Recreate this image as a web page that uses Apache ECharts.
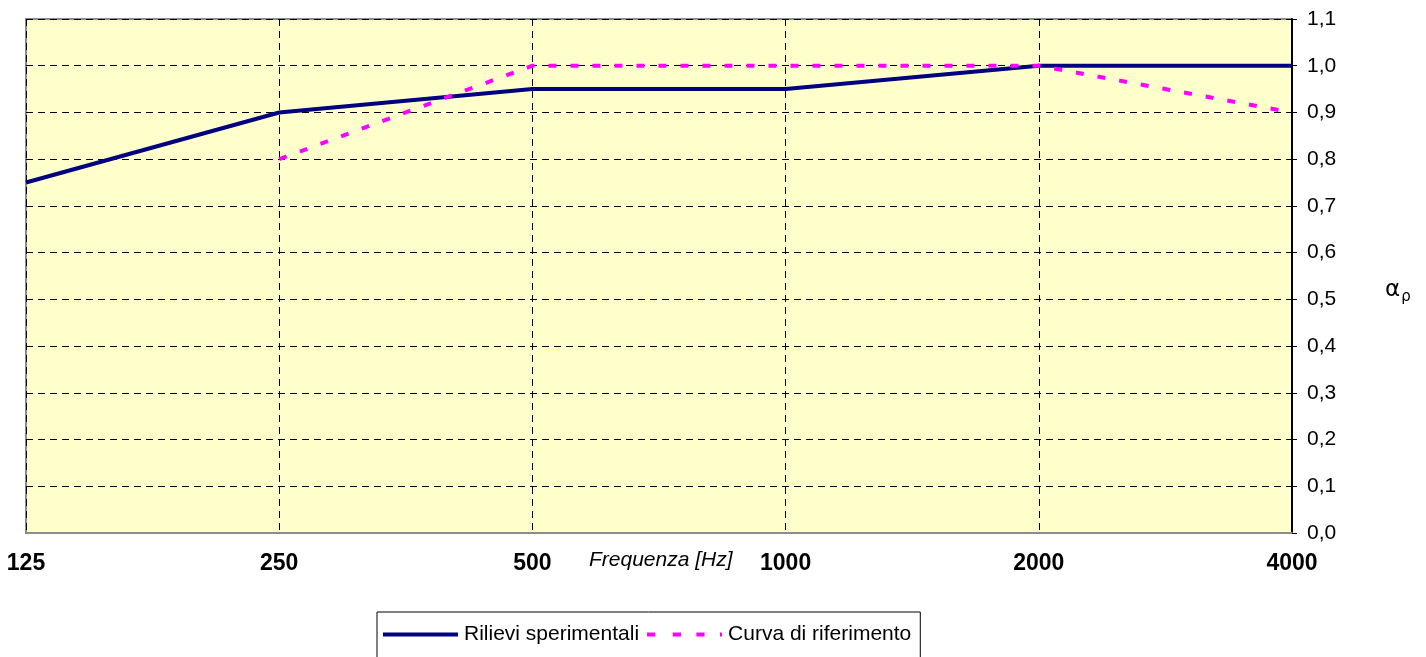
<!DOCTYPE html>
<html>
<head>
<meta charset="utf-8">
<script src="https://cdn.jsdelivr.net/npm/echarts@6/dist/echarts.min.js"></script>
<style>
  html, body { margin: 0; padding: 0; background: #fff; }
  #chart { width: 1426px; height: 657px; }
</style>
</head>
<body>
<div id="chart"></div>
<script>
const frequencies = ["125", "250", "500", "1000", "2000", "4000"];
const rilievi = [0.75, 0.90, 0.95, 0.95, 1.0, 1.0];
const riferimento = [null, 0.80, 1.0, 1.0, 1.0, 0.90];

const chart = echarts.init(document.getElementById("chart"));

// legend icons: solid bar and dashed bar
const solidIcon = "path://M0,0h76v4h-76z";
const dashIcon = "path://M0,0h8v4h-8z M25,0h8v4h-8z M48,0h8v4h-8z M71,0h2v4h-2z";

chart.setOption({
  animation: false,
  textStyle: { fontFamily: "Liberation Sans, Arial, sans-serif" },
  grid: {
    left: 26,
    right: 134,
    top: 19,
    bottom: 124,
    show: true,
    backgroundColor: "#FFFFCC",
    borderColor: "#8c8c8c",
    borderWidth: 2,
  },
  legend: {
    left: 377,
    top: 612,
    padding: [12, 9, 30, 6],
    itemWidth: 75,
    itemHeight: 4,
    itemGap: 8,
    symbolKeepAspect: false,
    borderColor: "#000",
    borderWidth: 1,
    textStyle: { fontSize: 21, color: "#000", padding: [0, 0, 0, 1] },
    data: [
      { name: "Rilievi sperimentali", icon: solidIcon },
      { name: "Curva di riferimento", icon: dashIcon },
    ],
  },
  graphic: [
    {
      type: "text",
      left: 589,
      top: 550,
      style: {
        text: "Frequenza [Hz]",
        font: "italic 21px 'Liberation Sans', Arial, sans-serif",
        fill: "#000",
      },
    },
    {
      type: "text",
      left: 1385,
      top: 279,
      style: {
        text: "{a|α}{s|ρ}",
        rich: {
          a: { fontSize: 23, fontFamily: "DejaVu Sans", fill: "#000" },
          s: { fontSize: 15, fontFamily: "DejaVu Sans", fill: "#000", padding: [13, 0, 0, 1] },
        },
      },
    },
  ],
  xAxis: {
    type: "category",
    data: frequencies,
    boundaryGap: false,
    axisLine: { lineStyle: { color: "#8c8c8c", width: 2 } },
    axisTick: { show: false },
    axisLabel: { fontSize: 23, fontWeight: "bold", color: "#000", margin: 19 },
    splitLine: {
      show: true,
      lineStyle: { color: "#000", width: 1, type: [7, 5] },
    },
  },
  yAxis: {
    type: "value",
    position: "right",
    min: 0,
    max: 1.1,
    interval: 0.1,
    axisLine: { show: true, lineStyle: { color: "#000", width: 2 } },
    axisTick: { show: true, length: 5, lineStyle: { color: "#000" } },
    axisLabel: {
      fontSize: 21,
      color: "#000",
      margin: 15,
      formatter: (v) => v.toFixed(1).replace(".", ","),
    },
    splitLine: {
      show: true,
      lineStyle: { color: "#000", width: 1, type: [7, 5] },
    },
  },
  series: [
    {
      name: "Rilievi sperimentali",
      type: "line",
      data: rilievi,
      showSymbol: false,
      symbol: "none",
      lineStyle: { color: "#000080", width: 4 },
      itemStyle: { color: "#000080" },
      z: 3,
    },
    {
      name: "Curva di riferimento",
      type: "line",
      data: riferimento,
      showSymbol: false,
      symbol: "none",
      lineStyle: { color: "#FF00FF", width: 4, type: [8, 14] },
      itemStyle: { color: "#FF00FF" },
      z: 4,
    },
  ],
});
</script>
</body>
</html>
